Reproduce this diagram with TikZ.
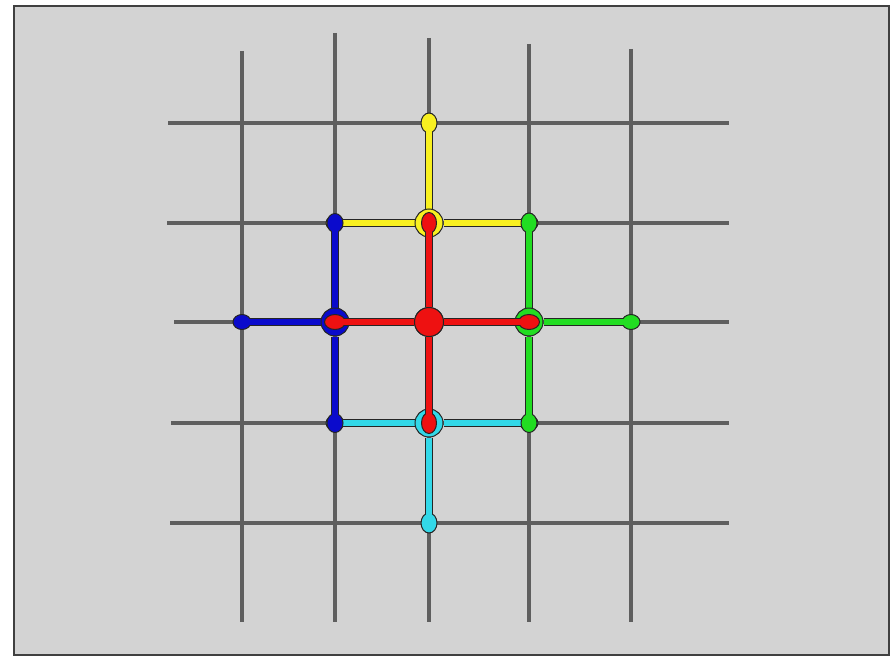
\documentclass[tikz,border=0pt]{standalone}
\usetikzlibrary{shapes.geometric}
\definecolor{bgc}{HTML}{D3D3D3}
\definecolor{framec}{HTML}{404040}
\definecolor{gridc}{HTML}{5E5E5E}
\definecolor{outl}{HTML}{252525}
\definecolor{yel}{HTML}{F8F020}
\definecolor{blu}{HTML}{0A0ACC}
\definecolor{grn}{HTML}{22DD22}
\definecolor{cyn}{HTML}{33D8E8}
\definecolor{rd}{HTML}{EE1111}
\pgfdeclarelayer{back}
\pgfdeclarelayer{lines}
\pgfdeclarelayer{top}
\pgfsetlayers{back,lines,main,top}
\newcommand\myconn[5]{% colour, from, to, blob length, blob width
  \draw[line width=7.5pt, draw=outl] (#2) -- (#3);
  \path (#2) -- (#3) node[pos=1, sloped, blob, fill=#1, minimum width=#4pt, minimum height=#5pt] {};
  \draw[line width=5.5pt, draw=#1] (#2) -- (#3);
}
\begin{document}
\begin{tikzpicture}[x=1pt,y=-1pt,
  gridline/.style={line width=4pt, draw=gridc},
  hub/.style={circle, draw=outl, line width=1pt, minimum size=28pt, inner sep=0pt},
  blob/.style={ellipse, draw=outl, line width=1pt, inner sep=0pt}]
\useasboundingbox (0,0) rectangle (893,658);
\begin{pgfonlayer}{back}
\fill[white] (0,0) rectangle (893,658);
\draw[fill=bgc, draw=framec, line width=1.5pt] (14,6) rectangle (889,655);
% grid
\draw[gridline] (242,51) -- (242,622);
\draw[gridline] (335,33) -- (335,622);
\draw[gridline] (429,38) -- (429,622);
\draw[gridline] (529,44) -- (529,622);
\draw[gridline] (631,49) -- (631,622);
\draw[gridline] (168,123) -- (729,123);
\draw[gridline] (167,223) -- (729,223);
\draw[gridline] (174,322) -- (729,322);
\draw[gridline] (171,423) -- (729,423);
\draw[gridline] (170,523) -- (729,523);
\end{pgfonlayer}
% end points
\coordinate (yt) at (429,123);
\coordinate (tl) at (335,223);
\coordinate (tr) at (529,223);
\coordinate (ll) at (242,322);
\coordinate (rr) at (631,322);
\coordinate (bl) at (335,423);
\coordinate (br) at (529,423);
\coordinate (bb) at (429,523);
% hubs
\node[hub, fill=yel] (Y) at (429,223) {};
\node[hub, fill=blu] (B) at (335,322) {};
\node[hub, fill=grn] (G) at (529,322) {};
\node[hub, fill=cyn] (K) at (429,423) {};
\begin{pgfonlayer}{lines}
\myconn{yel}{Y}{yt}{20}{16}
\myconn{yel}{Y}{tl}{18}{15}
\myconn{yel}{Y}{tr}{18}{15}
\myconn{cyn}{K}{bb}{20}{16}
\myconn{cyn}{K}{bl}{18}{15}
\myconn{cyn}{K}{br}{18}{15}
\myconn{blu}{B}{tl}{19}{16}
\myconn{blu}{B}{ll}{18}{15}
\myconn{blu}{B}{bl}{19}{16}
\myconn{grn}{G}{tr}{20}{16}
\myconn{grn}{G}{rr}{18}{15}
\myconn{grn}{G}{br}{19}{16}
\end{pgfonlayer}
\begin{pgfonlayer}{top}
\node[hub, fill=rd, minimum size=29pt] (C) at (429,322) {};
\myconn{rd}{C}{Y.center}{21}{15}
\myconn{rd}{C}{B.center}{21}{15}
\myconn{rd}{C}{G.center}{21}{15}
\myconn{rd}{C}{K.center}{21}{15}
\node[hub, fill=rd, minimum size=29pt] at (C) {};
\end{pgfonlayer}
\end{tikzpicture}
\end{document}
